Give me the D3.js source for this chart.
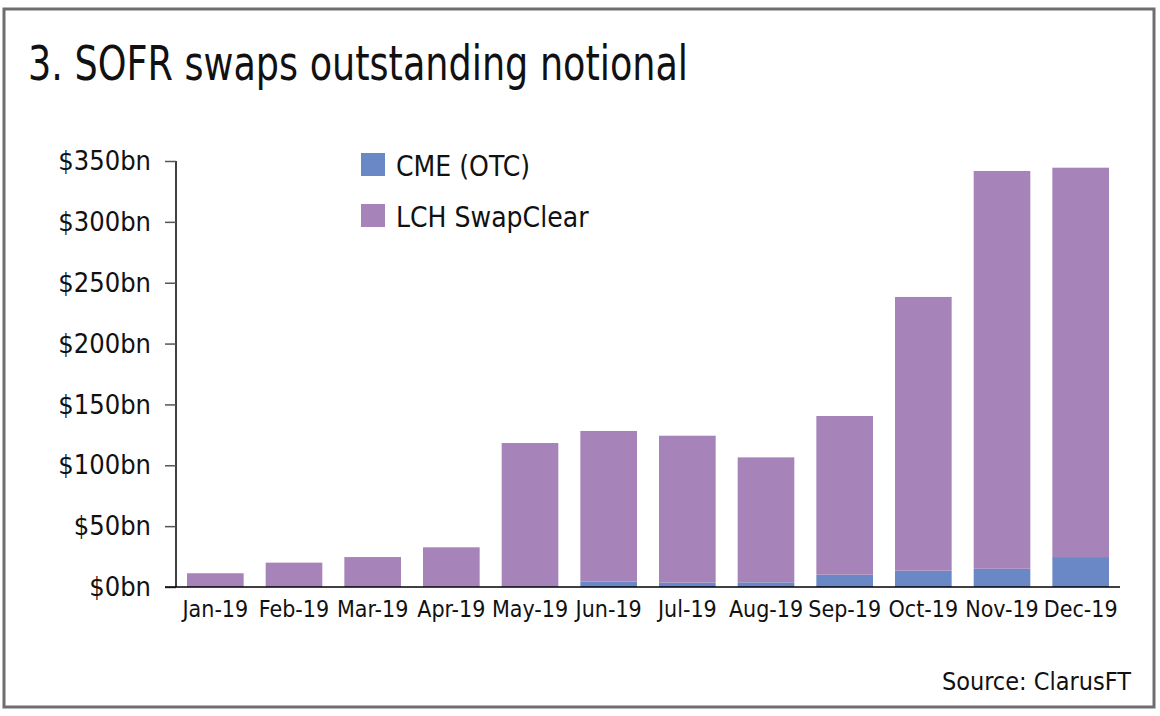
<!DOCTYPE html>
<html><head><meta charset="utf-8">
<script src="https://cdn.jsdelivr.net/npm/d3@7"></script>
<style>body{margin:0;background:#fff}svg{display:block}</style>
</head><body>
<svg id="c" width="1160" height="716"></svg>
<script>
const months = ["Jan-19","Feb-19","Mar-19","Apr-19","May-19","Jun-19","Jul-19","Aug-19","Sep-19","Oct-19","Nov-19","Dec-19"];
const cme = [0, 0, 0, 0.3, 0.5, 4.4, 3.6, 3.8, 10.1, 13.4, 15.0, 24.6];
const lch = [11.3, 20.0, 24.6, 32.3, 117.8, 123.8, 120.7, 102.7, 130.4, 224.9, 326.8, 319.9];
const yTicks = [0, 50, 100, 150, 200, 250, 300, 350];
const seriesNames = ["CME (OTC)", "LCH SwapClear"];
const colors = ["#6a88c5", "#a683b8"];

const font = "'DejaVu Sans Condensed', 'DejaVu Sans', sans-serif";
const svg = d3.select("#c");

svg.append("rect").attr("x",4).attr("y",9).attr("width",1150).attr("height",698)
  .attr("fill","#fff").attr("stroke","#6e6e6e").attr("stroke-width",3);

const title = svg.append("text").attr("x",28).attr("y",80).attr("font-family",font).attr("font-size",48)
  .attr("fill","#111").text("3. SOFR swaps outstanding notional");
title.attr("textLength",660).attr("lengthAdjust","spacingAndGlyphs");

const x = d3.scaleBand().domain(months).range([176,1120]).paddingInner(0.28).paddingOuter(0.14);
const y = d3.scaleLinear().domain([0,350]).range([587,161]);

const data = months.map((m,i)=>({month:m, cme:cme[i], lch:lch[i]}));
const stack = d3.stack().keys(["cme","lch"])(data);

svg.append("g").selectAll("g").data(stack).join("g").attr("fill",(d,i)=>colors[i])
  .selectAll("rect").data(d=>d).join("rect")
  .attr("x",d=>x(d.data.month)).attr("width",x.bandwidth())
  .attr("y",d=>y(d[1])).attr("height",d=>y(d[0])-y(d[1]));

// y axis
const ya = svg.append("g").attr("transform","translate(176,0)")
  .call(d3.axisLeft(y).tickValues(yTicks).tickSize(11).tickPadding(14).tickFormat(d=>"$"+d+"bn"));
ya.select(".domain").attr("stroke","#000").attr("stroke-width",1.5).attr("d","M0,161V587");
ya.selectAll(".tick line").attr("stroke","#555").attr("stroke-width",1.5);
ya.selectAll("text").attr("font-family",font).attr("font-size",27).attr("fill","#111");

// x axis
const xa = svg.append("g").attr("transform","translate(0,587)")
  .call(d3.axisBottom(x).tickSize(0).tickPadding(14));
xa.select(".domain").attr("stroke","#000").attr("stroke-width",1.5).attr("d","M165,0H1120");
xa.selectAll("text").attr("font-family",font).attr("font-size",23).attr("fill","#111");

// legend
const lg = svg.append("g");
seriesNames.forEach((n,i)=>{
  lg.append("rect").attr("x",361).attr("y",153+i*51).attr("width",24).attr("height",23).attr("fill",colors[i]);
  lg.append("text").attr("x",396).attr("y",176+i*51).attr("font-family",font).attr("font-size",28)
    .attr("fill","#111").text(n);
});

svg.append("text").attr("x",1131).attr("y",690).attr("text-anchor","end")
  .attr("font-family",font).attr("font-size",25).attr("fill","#111").text("Source: ClarusFT");
</script>
</body></html>
